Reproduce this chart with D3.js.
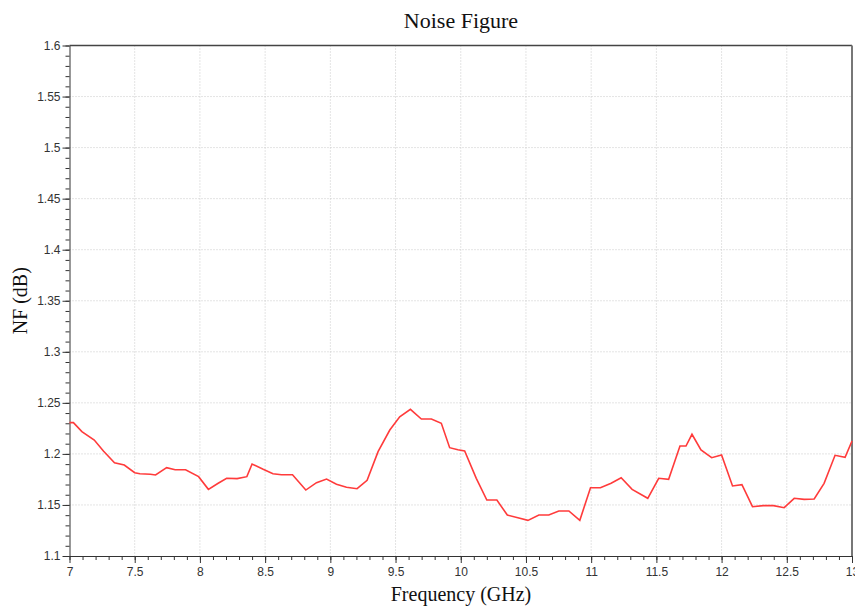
<!DOCTYPE html>
<html>
<head>
<meta charset="utf-8">
<script src="https://cdn.jsdelivr.net/npm/d3@7"></script>
<style>
  body { margin: 0; background: #fff; }
  svg { display: block; }
  .tick text { font-family: "Liberation Sans", Arial, sans-serif; font-size: 12px; fill: #333; }
  .axis path, .axis line { stroke: #333; }
</style>
</head>
<body>
<svg id="chart" width="855" height="607"></svg>
<script>
// frequency (GHz) and noise figure (dB)
var freq = [7.00, 7.03, 7.095, 7.19, 7.26, 7.345, 7.42, 7.50, 7.54, 7.62, 7.66, 7.745, 7.81, 7.89, 7.99,
  8.065, 8.14, 8.205, 8.285, 8.36, 8.40, 8.485, 8.56, 8.625, 8.71, 8.812, 8.894, 8.971,
  9.047, 9.124, 9.205, 9.282, 9.366, 9.456, 9.532, 9.614, 9.698, 9.775, 9.851, 9.915, 9.978,
  10.03, 10.119, 10.20, 10.277, 10.357, 10.438, 10.515, 10.599, 10.675, 10.752, 10.829, 10.913, 10.995,
  11.071, 11.153, 11.23, 11.314, 11.434, 11.518, 11.594, 11.681, 11.727, 11.773, 11.842, 11.924,
  12.0, 12.084, 12.156, 12.237, 12.319, 12.398, 12.48, 12.557, 12.633, 12.71, 12.786, 12.87, 12.947, 13.0];
var nf = [1.2306, 1.2306, 1.2218, 1.2136, 1.2028, 1.1914, 1.1891, 1.1816, 1.1806, 1.1800, 1.1793, 1.1865, 1.1845, 1.1845, 1.1777,
  1.1653, 1.1712, 1.1761, 1.1758, 1.1777, 1.1901, 1.1849, 1.1806, 1.1796, 1.1796, 1.1646, 1.1718, 1.1754,
  1.1702, 1.1673, 1.1659, 1.1741, 1.2022, 1.2234, 1.2364, 1.2437, 1.2342, 1.2342, 1.2300, 1.2061, 1.2041,
  1.2028, 1.1761, 1.1548, 1.1548, 1.1401, 1.1375, 1.1349, 1.1401, 1.1401, 1.1441, 1.1441, 1.1350, 1.1669,
  1.1669, 1.1712, 1.1767, 1.1653, 1.1565, 1.1761, 1.1751, 1.2077, 1.2077, 1.2192, 1.2038, 1.1963,
  1.1989, 1.1686, 1.1698, 1.1483, 1.1493, 1.1493, 1.1473, 1.1565, 1.1555, 1.1558, 1.1712, 1.1986, 1.1967, 1.2126];

var xTicks = [7, 7.5, 8, 8.5, 9, 9.5, 10, 10.5, 11, 11.5, 12, 12.5, 13];
var yTicks = [1.1, 1.15, 1.2, 1.25, 1.3, 1.35, 1.4, 1.45, 1.5, 1.55, 1.6];
var xMinor = d3.range(70, 131).map(function(d) { return d / 10; });
var yMinor = d3.range(110, 161).map(function(d) { return d / 100; });

var margin = {top: 45.5, right: 3, bottom: 51, left: 69.5},
    width = 855 - margin.left - margin.right,
    height = 607 - margin.top - margin.bottom;

var svg = d3.select("#chart");
var g = svg.append("g")
    .attr("transform", "translate(" + margin.left + "," + margin.top + ")");

var x = d3.scaleLinear().domain([7, 13]).range([0, width]);
var y = d3.scaleLinear().domain([1.1, 1.6]).range([height, 0]);

// grid
g.append("g").selectAll("line")
    .data(xTicks.slice(1, -1))
    .enter().append("line")
    .attr("x1", function(d) { return x(d); })
    .attr("x2", function(d) { return x(d); })
    .attr("y1", 0).attr("y2", height)
    .style("stroke", "#c8c8c8")
    .style("stroke-dasharray", "1,2");
g.append("g").selectAll("line")
    .data(yTicks.slice(1, -1))
    .enter().append("line")
    .attr("y1", function(d) { return y(d); })
    .attr("y2", function(d) { return y(d); })
    .attr("x1", 0).attr("x2", width)
    .style("stroke", "#c8c8c8")
    .style("stroke-dasharray", "1,2");

// minor ticks
g.append("g")
    .attr("class", "axis")
    .attr("transform", "translate(0," + height + ")")
    .call(d3.axisBottom(x).tickValues(xMinor).tickSize(4).tickFormat(""))
    .select(".domain").remove();
g.append("g")
    .attr("class", "axis")
    .call(d3.axisLeft(y).tickValues(yMinor).tickSize(4).tickFormat(""))
    .select(".domain").remove();

// major axes
g.append("g")
    .attr("class", "axis")
    .attr("transform", "translate(0," + height + ")")
    .call(d3.axisBottom(x).tickValues(xTicks).tickSize(7).tickSizeOuter(0).tickPadding(4).tickFormat(d3.format("")));
g.append("g")
    .attr("class", "axis")
    .call(d3.axisLeft(y).tickValues(yTicks).tickSize(7).tickSizeOuter(0).tickPadding(2).tickFormat(d3.format("")));

// top and right border
g.append("line")
    .attr("x1", 0).attr("x2", width).attr("y1", 0).attr("y2", 0)
    .style("stroke", "#444").style("stroke-width", 1.5);
g.append("line")
    .attr("x1", width).attr("x2", width).attr("y1", 0).attr("y2", height)
    .style("stroke", "#777").style("stroke-width", 2);

// curve
var line = d3.line()
    .x(function(d, i) { return x(freq[i]); })
    .y(function(d) { return y(d); });
g.append("path")
    .datum(nf)
    .attr("d", line)
    .style("fill", "none")
    .style("stroke", "#ff3b3b")
    .style("stroke-width", 1.6);

// labels
svg.append("text")
    .attr("x", 461).attr("y", 28)
    .attr("text-anchor", "middle")
    .style("font-family", "'Liberation Serif', 'DejaVu Serif', serif")
    .style("font-size", "22px")
    .style("fill", "#111")
    .text("Noise Figure");
svg.append("text")
    .attr("x", 461).attr("y", 601)
    .attr("text-anchor", "middle")
    .style("font-family", "'Liberation Serif', 'DejaVu Serif', serif")
    .style("font-size", "20px")
    .style("fill", "#111")
    .text("Frequency (GHz)");
svg.append("text")
    .attr("transform", "translate(27," + (margin.top + height / 2) + ") rotate(-90)")
    .attr("text-anchor", "middle")
    .style("font-family", "'Liberation Serif', 'DejaVu Serif', serif")
    .style("font-size", "20px")
    .style("fill", "#111")
    .text("NF (dB)");
</script>
</body>
</html>
